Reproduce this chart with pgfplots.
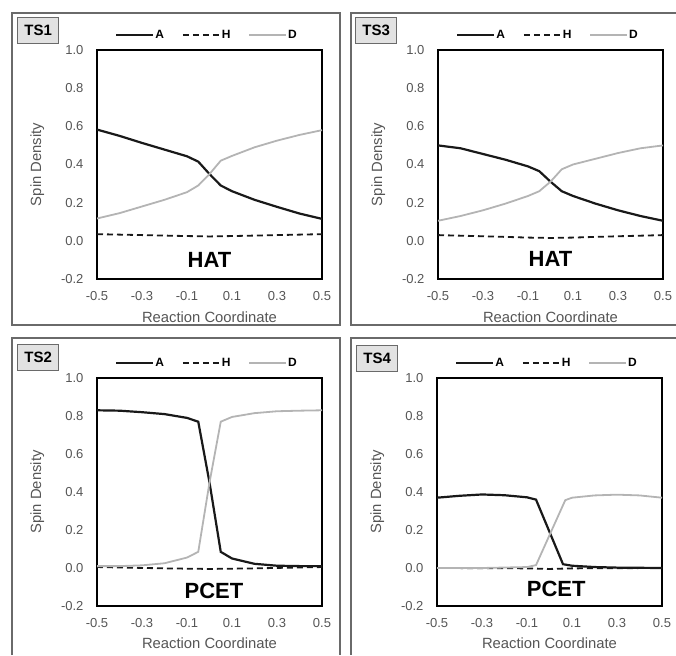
\documentclass[border=0pt]{standalone}
\usepackage{fontspec}
\setmainfont{Liberation Sans}
\usepackage{pgfplots}
\usepackage{pgfplotstable}
\pgfplotsset{compat=1.18}
\definecolor{tickgrey}{HTML}{555555}
\definecolor{Dgrey}{HTML}{B4B4B4}
\definecolor{framegrey}{HTML}{6A6A6A}
\definecolor{boxfill}{HTML}{E2E2E2}

% TS1
\pgfplotstableread{
x A D
-0.5 0.583 0.117
-0.4 0.550 0.145
-0.3 0.513 0.180
-0.2 0.478 0.215
-0.1 0.443 0.255
-0.05 0.415 0.290
0 0.350 0.350
0.05 0.290 0.420
0.1 0.260 0.445
0.2 0.215 0.490
0.3 0.178 0.525
0.4 0.143 0.555
0.5 0.115 0.580
}\tsone
\pgfplotstableread{
x H
-0.5 0.035
-0.3 0.030
-0.1 0.025
0 0.023
0.1 0.025
0.3 0.030
0.5 0.035
}\tsoneH
% TS3
\pgfplotstableread{
x A D
-0.5 0.500 0.105
-0.4 0.485 0.130
-0.3 0.455 0.160
-0.2 0.425 0.195
-0.1 0.390 0.235
-0.05 0.365 0.260
0 0.310 0.310
0.05 0.260 0.375
0.1 0.235 0.400
0.2 0.195 0.430
0.3 0.160 0.460
0.4 0.130 0.485
0.5 0.105 0.500
}\tsthree
\pgfplotstableread{
x H
-0.5 0.030
-0.3 0.024
-0.1 0.017
0 0.015
0.1 0.017
0.3 0.024
0.5 0.030
}\tsthreeH
% TS2
\pgfplotstableread{
x A D
-0.5 0.830 0.010
-0.4 0.828 0.010
-0.3 0.820 0.014
-0.2 0.810 0.025
-0.1 0.790 0.055
-0.05 0.770 0.085
0 0.450 0.450
0.05 0.085 0.770
0.1 0.050 0.795
0.2 0.022 0.815
0.3 0.012 0.825
0.4 0.010 0.828
0.5 0.010 0.830
}\tstwo
\pgfplotstableread{
x H
-0.5 0.005
-0.2 -0.002
0 -0.005
0.2 -0.002
0.5 0.005
}\tstwoH
% TS4
\pgfplotstableread{
x A
-0.5 0.370
-0.4 0.380
-0.3 0.387
-0.2 0.383
-0.1 0.372
-0.06 0.360
0.06 0.020
0.1 0.012
0.2 0.005
0.3 0.002
0.5 0.000
}\tsfourA
\pgfplotstableread{
x D
-0.5 0.000
-0.3 0.000
-0.1 0.005
-0.06 0.015
0.07 0.357
0.1 0.370
0.2 0.382
0.3 0.386
0.4 0.382
0.5 0.370
}\tsfourD
\pgfplotstableread{
x H
-0.5 0.000
-0.1 -0.002
0 -0.005
0.1 -0.002
0.5 0.000
}\tsfourH

\pgfplotsset{
  panel/.style={
    scale only axis, width=225pt, height=229pt,
    xmin=-0.5, xmax=0.5, ymin=-0.2, ymax=1.0,
    xtick={-0.5,-0.3,-0.1,0.1,0.3,0.5},
    xticklabels={-0.5,-0.3,-0.1,0.1,0.3,0.5},
    ytick={-0.2,0,0.2,0.4,0.6,0.8,1.0},
    yticklabels={-0.2,0.0,0.2,0.4,0.6,0.8,1.0},
    major tick length=0pt, tick style={draw=none},
    ticklabel style={font=\fontsize{13}{15}\selectfont, text=tickgrey},
    xticklabel style={yshift=-9pt},
    yticklabel style={xshift=-10pt},
    axis line style={line width=1.8pt, black},
    xlabel={Reaction Coordinate}, ylabel={Spin Density},
    label style={font=\fontsize{14.8}{17}\selectfont, text=tickgrey},
    xlabel style={at={(axis description cs:0.5,-0.165)}, anchor=center},
    ylabel style={at={(axis description cs:-0.265,0.5)}, anchor=center},
    legend columns=3,
    legend style={at={(0.5,1)}, anchor=south, xshift=-3pt, yshift=7pt,
      draw=none, fill=none,
      font=\bfseries\fontsize{12}{14}\selectfont,
      nodes={inner sep=1pt},
      /tikz/every even column/.append style={column sep=17pt}},
    legend image code/.code={\draw[##1] (0pt,0pt) -- (37pt,0pt);},
  },
  Aline/.style={black!90, line width=2.2pt},
  Hline/.style={black!90, line width=1.8pt, dash pattern=on 6pt off 4pt},
  Dline/.style={Dgrey, line width=1.8pt},
}

\begin{document}
\begin{tikzpicture}[x=1pt,y=1pt]
\useasboundingbox (0,0) rectangle (676,655);
% outer frames
\draw[framegrey, line width=1.6pt] (12,330) rectangle (340,642);
\draw[framegrey, line width=1.6pt] (676,642) -- (351,642) -- (351,330) -- (676,330);
\draw[framegrey, line width=1.6pt] (12,0) -- (12,317) -- (340,317) -- (340,0);
\draw[framegrey, line width=1.6pt] (676,317) -- (351,317) -- (351,0);

% TS1
\begin{axis}[panel, at={(97pt,376pt)}, anchor=south west]
\addplot[Aline] table[x=x,y=A] {\tsone};
\addlegendentry{A}
\addplot[Hline] table[x=x,y=H] {\tsoneH};
\addlegendentry{H}
\addplot[Dline] table[x=x,y=D] {\tsone};
\addlegendentry{D}
\node[font=\bfseries\fontsize{22}{25}\selectfont] at (axis cs:0,-0.1) {HAT};
\end{axis}

% TS3
\begin{axis}[panel, at={(438pt,376pt)}, anchor=south west]
\addplot[Aline] table[x=x,y=A] {\tsthree};
\addlegendentry{A}
\addplot[Hline] table[x=x,y=H] {\tsthreeH};
\addlegendentry{H}
\addplot[Dline] table[x=x,y=D] {\tsthree};
\addlegendentry{D}
\node[font=\bfseries\fontsize{22}{25}\selectfont] at (axis cs:0,-0.095) {HAT};
\end{axis}

% TS2
\begin{axis}[panel, height=228pt, at={(97pt,49pt)}, anchor=south west]
\addplot[Aline] table[x=x,y=A] {\tstwo};
\addlegendentry{A}
\addplot[Hline] table[x=x,y=H] {\tstwoH};
\addlegendentry{H}
\addplot[Dline] table[x=x,y=D] {\tstwo};
\addlegendentry{D}
\node[font=\bfseries\fontsize{22}{25}\selectfont] at (axis cs:0.02,-0.12) {PCET};
\end{axis}

% TS4
\begin{axis}[panel, height=228pt, at={(437pt,49pt)}, anchor=south west]
\addplot[Aline] table[x=x,y=A] {\tsfourA};
\addlegendentry{A}
\addplot[Hline] table[x=x,y=H] {\tsfourH};
\addlegendentry{H}
\addplot[Dline] table[x=x,y=D] {\tsfourD};
\addlegendentry{D}
\node[font=\bfseries\fontsize{22}{25}\selectfont] at (axis cs:0.03,-0.11) {PCET};
\end{axis}

% TS label boxes
\tikzset{tsbox/.style={draw=framegrey, fill=boxfill, line width=1.2pt,
  minimum width=41pt, minimum height=26pt, inner sep=0pt, anchor=north west,
  font=\bfseries\fontsize{15}{17}\selectfont}}
\node[tsbox] at (17,638) {TS1};
\node[tsbox] at (355,638) {TS3};
\node[tsbox] at (17,311) {TS2};
\node[tsbox] at (356,310) {TS4};
\end{tikzpicture}
\end{document}
